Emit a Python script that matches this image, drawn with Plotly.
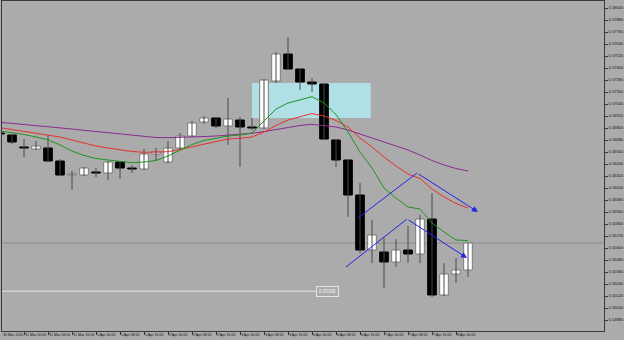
import plotly.graph_objects as go

# ---- data (NZDUSD H4) ----
bar_index = list(range(40))
opens = [0.5675, 0.5673, 0.5661, 0.5659, 0.5660, 0.5647, 0.5633, 0.5633, 0.5636, 0.5635,
         0.5646, 0.5640, 0.5639, 0.5654, 0.5646, 0.5660, 0.5672, 0.5686, 0.5690, 0.5682,
         0.5688, 0.5681, 0.5680, 0.5727, 0.5754, 0.5739, 0.5726, 0.5724, 0.5668, 0.5648,
         0.5613, 0.5558, 0.5556, 0.5546, 0.5558, 0.5554, 0.5589, 0.5513, 0.5534, 0.5538]
highs = [0.5677, 0.5674, 0.5669, 0.5667, 0.5673, 0.5649, 0.5637, 0.5641, 0.5640, 0.5647,
         0.5647, 0.5643, 0.5659, 0.5660, 0.5667, 0.5675, 0.5687, 0.5692, 0.5691, 0.5710,
         0.5691, 0.5690, 0.5729, 0.5756, 0.5771, 0.5740, 0.5730, 0.5725, 0.5669, 0.5649,
         0.5625, 0.5588, 0.5570, 0.5569, 0.5582, 0.5593, 0.5615, 0.5545, 0.5550, 0.5565]
lows = [0.5672, 0.5664, 0.5651, 0.5658, 0.5646, 0.5632, 0.5618, 0.5632, 0.5631, 0.5628,
        0.5629, 0.5635, 0.5638, 0.5647, 0.5645, 0.5659, 0.5671, 0.5684, 0.5680, 0.5663,
        0.5641, 0.5678, 0.5679, 0.5725, 0.5738, 0.5718, 0.5716, 0.5668, 0.5641, 0.5591,
        0.5555, 0.5545, 0.5520, 0.5541, 0.5545, 0.5545, 0.5511, 0.5512, 0.5525, 0.5531]
closes = [0.5674, 0.5666, 0.5660, 0.5662, 0.5647, 0.5633, 0.5634, 0.5640, 0.5635, 0.5646,
          0.5640, 0.5639, 0.5654, 0.5656, 0.5660, 0.5672, 0.5685, 0.5690, 0.5682, 0.5689,
          0.5681, 0.5680, 0.5728, 0.5754, 0.5739, 0.5726, 0.5724, 0.5669, 0.5648, 0.5613,
          0.5558, 0.5573, 0.5546, 0.5558, 0.5554, 0.5589, 0.5513, 0.5534, 0.5538, 0.5565]

ma_slow = [0.56857, 0.56847, 0.56837, 0.56827, 0.56815, 0.56803, 0.5679, 0.56777, 0.56765, 0.56753,
           0.5674, 0.56725, 0.56713, 0.56705, 0.56703, 0.56705, 0.5671, 0.56715, 0.5672, 0.56727,
           0.56735, 0.56747, 0.56764, 0.56785, 0.56807, 0.56825, 0.56837, 0.56827, 0.5681, 0.5678,
           0.5674, 0.56703, 0.56665, 0.56625, 0.5658, 0.5653, 0.56475, 0.5643, 0.56395, 0.5637]
ma_mid = [0.56803, 0.56785, 0.56765, 0.5675, 0.56733, 0.5671, 0.5668, 0.5665, 0.5662, 0.566,
          0.5658, 0.56565, 0.56557, 0.56557, 0.56563, 0.56585, 0.56615, 0.56638, 0.56665, 0.5669,
          0.56697, 0.5671, 0.5676, 0.56825, 0.5688, 0.56915, 0.56945, 0.5692, 0.56875, 0.5681,
          0.567, 0.5661, 0.5651, 0.5642, 0.5634, 0.56295, 0.5619, 0.5611, 0.56045, 0.5600]
ma_fast = [0.5677, 0.56755, 0.56735, 0.5671, 0.56683, 0.5663, 0.5657, 0.56525, 0.56495, 0.5648,
           0.56465, 0.56453, 0.5646, 0.56475, 0.5652, 0.5658, 0.56635, 0.56675, 0.567, 0.5672,
           0.5673, 0.5675, 0.5687, 0.5699, 0.5705, 0.5708, 0.57113, 0.5705, 0.56935, 0.5676,
           0.5656, 0.564, 0.562, 0.561, 0.5601, 0.5599, 0.5585, 0.5576, 0.5568, 0.55675]

x_label_index = [0, 2, 4, 6, 8, 10, 12, 14, 16, 18, 20, 22, 24, 26, 28, 30, 32, 34, 36, 38]
x_labels = ["30 Mar 2020", "31 Mar 00:00", "31 Mar 08:00", "31 Mar 16:00", "1 Apr 00:00",
            "1 Apr 08:00", "1 Apr 16:00", "2 Apr 00:00", "2 Apr 08:00", "2 Apr 16:00",
            "3 Apr 00:00", "3 Apr 08:00", "3 Apr 16:00", "6 Apr 00:00", "6 Apr 08:00",
            "6 Apr 16:00", "7 Apr 00:00", "7 Apr 08:00", "7 Apr 16:00", "8 Apr 00:00"]
y_tick_labels = ["0.58000", "0.57880", "0.57760", "0.57640", "0.57520", "0.57400", "0.57280",
                 "0.57160", "0.57040", "0.56920", "0.56800", "0.56680", "0.56560", "0.56440",
                 "0.56320", "0.56200", "0.56080", "0.55960", "0.55840", "0.55720", "0.55600",
                 "0.55480", "0.55360", "0.55240", "0.55120", "0.55000", "0.54880"]

# drawing objects
zone_time = [21, 30.9]
zone_price = [0.5690, 0.5725]
arrow_up_time = [29.83, 34.75, 39.83]
arrow_up_price = [0.5590, 0.5635, 0.5596]
arrow_lo_time = [28.83, 33.92, 38.92]
arrow_lo_price = [0.5541, 0.5589, 0.5550]
level_price = 0.55168
level_end_time = 26.3
title_text = "NZDUSDmicro,H4: New Zealand Dollar vs US Dollar"

BG = "#ABABAB"
AX = "#3A3A3A"
fig = go.Figure()

# wicks
wx, wy = [], []
for i, h, l in zip(bar_index, highs, lows):
    wx += [i, i, None]
    wy += [h, l, None]
fig.add_trace(go.Scatter(x=wx, y=wy, mode="lines", line=dict(color="#4A4A4A", width=1),
                         hoverinfo="skip"))

# bodies
base = [min(o, c) for o, c in zip(opens, closes)]
height = [max(abs(c - o), 0.00008) for o, c in zip(opens, closes)]
bull = [c >= o for o, c in zip(opens, closes)]
fig.add_trace(go.Bar(x=bar_index, y=height, base=base, width=0.72,
                     marker=dict(color=["#FFFFFF" if b else "#000000" for b in bull],
                                 line=dict(color=["#7A7A7A" if b else "#000000" for b in bull], width=1))))

# moving averages
fig.add_trace(go.Scatter(x=bar_index, y=ma_slow, mode="lines", line=dict(color="#8E2A92", width=1)))
fig.add_trace(go.Scatter(x=bar_index, y=ma_mid, mode="lines", line=dict(color="#E8302C", width=1)))
fig.add_trace(go.Scatter(x=bar_index, y=ma_fast, mode="lines", line=dict(color="#1F951F", width=1)))

# blue arrows
for tx, py in ((arrow_up_time, arrow_up_price), (arrow_lo_time, arrow_lo_price)):
    fig.add_trace(go.Scatter(x=tx[:2], y=py[:2], mode="lines", line=dict(color="#2323E6", width=1)))
    fig.add_annotation(x=tx[2], y=py[2], ax=tx[1], ay=py[1], xref="x", yref="y", axref="x", ayref="y",
                       text="", showarrow=True, arrowhead=2, arrowsize=1.2, arrowwidth=1,
                       arrowcolor="#2323E6")

shapes = [
    dict(type="rect", xref="x", yref="y", x0=zone_time[0], x1=zone_time[1], y0=zone_price[0], y1=zone_price[1],
         fillcolor="#B0E0E6", line=dict(width=0), layer="below"),
    dict(type="line", xref="paper", yref="y", x0=0, x1=1, y0=closes[-1], y1=closes[-1],
         line=dict(color="#8C8C8C", width=1), layer="below"),
    dict(type="line", xref="x", yref="y", x0=0, x1=level_end_time, y0=level_price, y1=level_price,
         line=dict(color="#E6E6E6", width=1), layer="below"),
]

annotations = [
    dict(xref="paper", yref="paper", x=0, y=1, xanchor="left", yanchor="top", xshift=1, yshift=-1,
         text=title_text, showarrow=False, font=dict(size=4, color="#111111")),
    dict(xref="paper", yref="y", x=1, y=closes[-1], xanchor="left", yanchor="middle", xshift=1,
         text=f"{closes[-1]:.5f}", showarrow=False, bgcolor="#FFFFFF", borderpad=0,
         font=dict(size=4, color="#111111")),
    dict(xref="x", yref="y", x=level_end_time, y=level_price, xanchor="left", yanchor="middle",
         text=f"{level_price:.5f}", showarrow=False, bordercolor="#E6E6E6", borderwidth=1, borderpad=2,
         font=dict(size=4.5, color="#F2F2F2")),
]
x_min = 2 / 12
for idx, lab in zip(x_label_index, x_labels):
    annotations.append(dict(xref="x", yref="paper", x=max(idx, x_min), y=0, xanchor="left", yanchor="top",
                            xshift=0, yshift=-1, text=lab, showarrow=False, borderpad=0,
                            font=dict(size=3.6, color="#111111")))

fig.update_layout(
    width=624, height=340, margin=dict(l=2, r=20, t=1, b=9),
    paper_bgcolor=BG, plot_bgcolor=BG, showlegend=False, barmode="overlay",
    font=dict(family="Liberation Sans, Arial, sans-serif", size=4, color="#111111"),
    shapes=shapes, annotations=annotations,
    xaxis=dict(range=[x_min, 604 / 12], showgrid=False, zeroline=False, showline=True, mirror=True,
               linecolor=AX, linewidth=1, ticks="outside", ticklen=3, tickcolor=AX,
               tickvals=x_label_index[1:], showticklabels=False, fixedrange=True),
    yaxis=dict(range=[0.5477, 0.5807], side="right", showgrid=False, zeroline=False, showline=True,
               mirror=True, linecolor=AX, linewidth=1, ticks="outside", ticklen=3, tickcolor=AX,
               tickvals=[float(t) for t in y_tick_labels], ticktext=y_tick_labels,
               tickfont=dict(size=4, color="#111111"), fixedrange=True),
)

fig.write_html("out.html")
